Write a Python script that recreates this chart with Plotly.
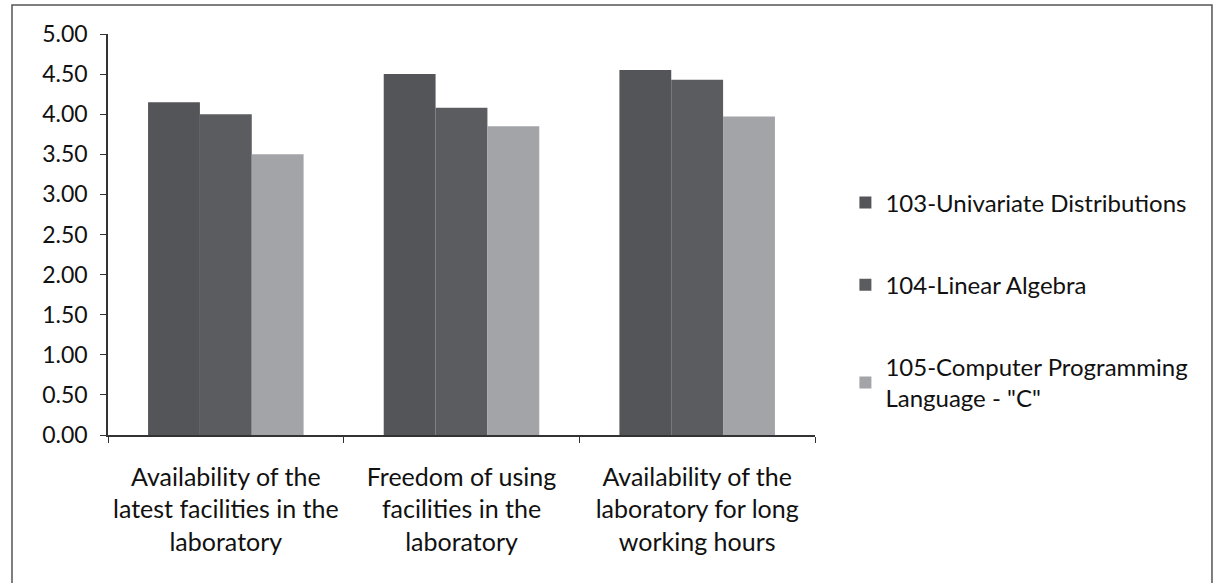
import plotly.graph_objects as go

categories = [
    "Availability of the<br>latest facilities in the<br>laboratory",
    "Freedom of using<br>facilities in the<br>laboratory",
    "Availability of the<br>laboratory for long<br>working hours",
]
series_names = [
    "103-Univariate Distributions",
    "104-Linear Algebra",
    '105-Computer Programming<br>Language - "C"',
]
univariate = [4.15, 4.50, 4.55]
linear_algebra = [4.00, 4.08, 4.43]
programming_c = [3.50, 3.85, 3.97]
colors = ["#545559", "#5b5c5f", "#a3a4a8"]

font = "Lato, 'Open Sans', sans-serif"

fig = go.Figure()
for i, (name, vals) in enumerate(zip(series_names, [univariate, linear_algebra, programming_c])):
    fig.add_trace(go.Bar(
        x=categories,
        y=vals,
        name=name,
        marker=dict(color=colors[i], line=dict(width=0)),
        legendgroup=str(i),
    ))

fig.update_layout(
    width=1216,
    height=583,
    barmode="group",
    bargap=0.34,
    bargroupgap=0,
    plot_bgcolor="white",
    paper_bgcolor="white",
    margin=dict(l=108, r=401, t=34, b=148),
    font=dict(family=font, size=24, color="#111"),
    legend=dict(
        x=1.043, y=0.635, xanchor="left", yanchor="top",
        tracegroupgap=48,
        font=dict(size=24),
        itemwidth=30,
    ),
    shapes=[dict(
        type="rect", xref="paper", yref="paper",
        x0=-0.1358, x1=1.5615, y0=-0.6, y1=1.0723,
        line=dict(color="#555", width=1.5),
    )],
)
fig.update_yaxes(
    range=[0, 5], dtick=0.5, tickformat=".2f",
    tickfont=dict(size=23),
    showgrid=False, zeroline=False,
    showline=True, linecolor="#333", linewidth=1.5,
    ticks="outside", ticklen=6, tickcolor="#333",
    ticklabelstandoff=8,
)
fig.update_xaxes(
    tickfont=dict(size=25),
    showgrid=False,
    showline=True, linecolor="#333", linewidth=1.5,
    ticks="outside", ticklen=6, tickcolor="#333",
    tickson="boundaries",
    ticklabelstandoff=19,
)

fig.write_html(
    "out.html",
    config={"displayModeBar": False},
    post_script="document.body.style.margin='0';",
)
